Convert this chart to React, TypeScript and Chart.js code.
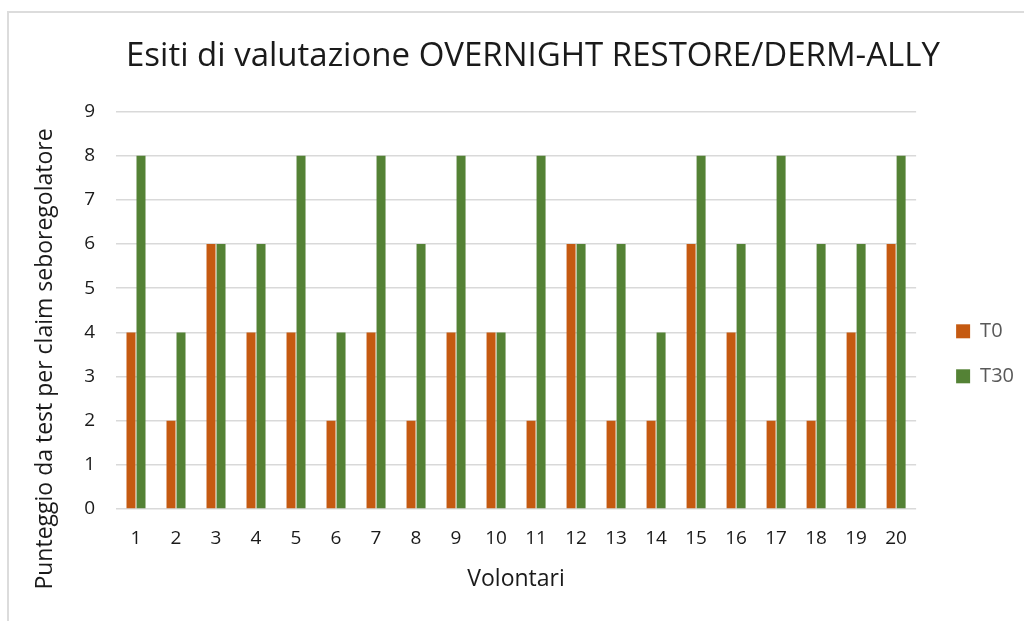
import React, { useEffect, useRef } from "react";
import { Chart, registerables } from "chart.js";

Chart.register(...registerables);

const categories = ["1", "2", "3", "4", "5", "6", "7", "8", "9", "10", "11", "12", "13", "14", "15", "16", "17", "18", "19", "20"];
const t0Values = [4, 2, 6, 4, 4, 2, 4, 2, 4, 4, 2, 6, 2, 2, 6, 4, 2, 2, 4, 6];
const t30Values = [8, 4, 6, 6, 8, 4, 8, 6, 8, 4, 8, 6, 6, 4, 8, 6, 8, 6, 6, 8];
const seriesNames = ["T0", "T30"];
const yMin = 0;
const yMax = 9;
const yStep = 1;
const chartTitle = "Esiti di valutazione OVERNIGHT RESTORE/DERM-ALLY";
const yAxisTitle = "Punteggio da test per claim seboregolatore";
const xAxisTitle = "Volontari";

const FONT = '"Open Sans", "Noto Sans", sans-serif';
const TEXT = "#1a1a1a";

const yTitlePlugin = {
  id: "yTitlePlugin",
  afterDraw(chart: any) {
    const { ctx, chartArea } = chart;
    ctx.save();
    ctx.font = `23px ${FONT}`;
    ctx.fillStyle = TEXT;
    ctx.textAlign = "center";
    ctx.textBaseline = "middle";
    ctx.translate(chartArea.left - 71, chartArea.bottom - 150);
    ctx.rotate(-Math.PI / 2);
    ctx.fillText(yAxisTitle, 0, 0);
    ctx.restore();
  },
};

export default function App() {
  const canvasRef = useRef<HTMLCanvasElement | null>(null);

  useEffect(() => {
    if (!canvasRef.current) return;
    const chart = new Chart(canvasRef.current, {
      type: "bar",
      data: {
        labels: categories,
        datasets: [
          {
            label: seriesNames[0],
            data: t0Values,
            backgroundColor: "#C55A11",
            borderWidth: 0,
            categoryPercentage: 0.5,
            barPercentage: 0.9,
          },
          {
            label: seriesNames[1],
            data: t30Values,
            backgroundColor: "#548235",
            borderWidth: 0,
            categoryPercentage: 0.5,
            barPercentage: 0.9,
          },
        ],
      },
      options: {
        animation: false,
        responsive: false,
        devicePixelRatio: 1,
        layout: { padding: { left: 42, right: 0, top: 0, bottom: 0 } },
        plugins: {
          title: {
            display: true,
            text: chartTitle,
            color: TEXT,
            font: { family: FONT, size: 33, weight: "normal" },
            padding: { top: 37, bottom: 35 },
          },
          legend: {
            position: "right",
            title: {
              display: true,
              text: "",
              font: { family: FONT, size: 13 },
              padding: { top: 35, bottom: 36 },
            },
            labels: {
              boxWidth: 14,
              boxHeight: 14,
              padding: 25,
              color: "#595959",
              font: { family: FONT, size: 20 },
            },
          },
          tooltip: { enabled: false },
        },
        scales: {
          x: {
            grid: { display: false },
            border: { display: false },
            ticks: {
              color: TEXT,
              font: { family: FONT, size: 19 },
              padding: 10,
              maxRotation: 0,
            },
            title: {
              display: true,
              text: xAxisTitle,
              color: TEXT,
              font: { family: FONT, size: 23 },
              padding: { top: 0, bottom: 28 },
            },
            afterFit: (s: any) => {
              s.height = 112;
            },
          },
          y: {
            min: yMin,
            max: yMax,
            grid: { color: "#d9d9d9", lineWidth: 1.5, drawTicks: false },
            border: { display: false },
            ticks: {
              stepSize: yStep,
              color: TEXT,
              font: { family: FONT, size: 19 },
              padding: 21,
            },
            afterFit: (s: any) => {
              s.width = 74;
            },
          },
          gap: {
            type: "linear",
            position: "right",
            display: true,
            grid: { display: false },
            border: { display: false },
            ticks: { display: false },
            afterFit: (s: any) => {
              s.width = 15;
            },
          },
        },
      },
      plugins: [yTitlePlugin],
    } as any);
    return () => chart.destroy();
  }, []);

  return (
    <div style={{ position: "fixed", left: 0, top: 0, width: 1024, height: 621, overflow: "hidden", background: "#fff" }}>
      <div
        style={{
          position: "absolute",
          left: 7,
          top: 11,
          width: 1100,
          height: 700,
          border: "2px solid #dcdcdc",
        }}
      />
      <canvas ref={canvasRef} width={1024} height={621} style={{ position: "absolute", left: 0, top: 0, width: 1024, height: 621 }} />
    </div>
  );
}
